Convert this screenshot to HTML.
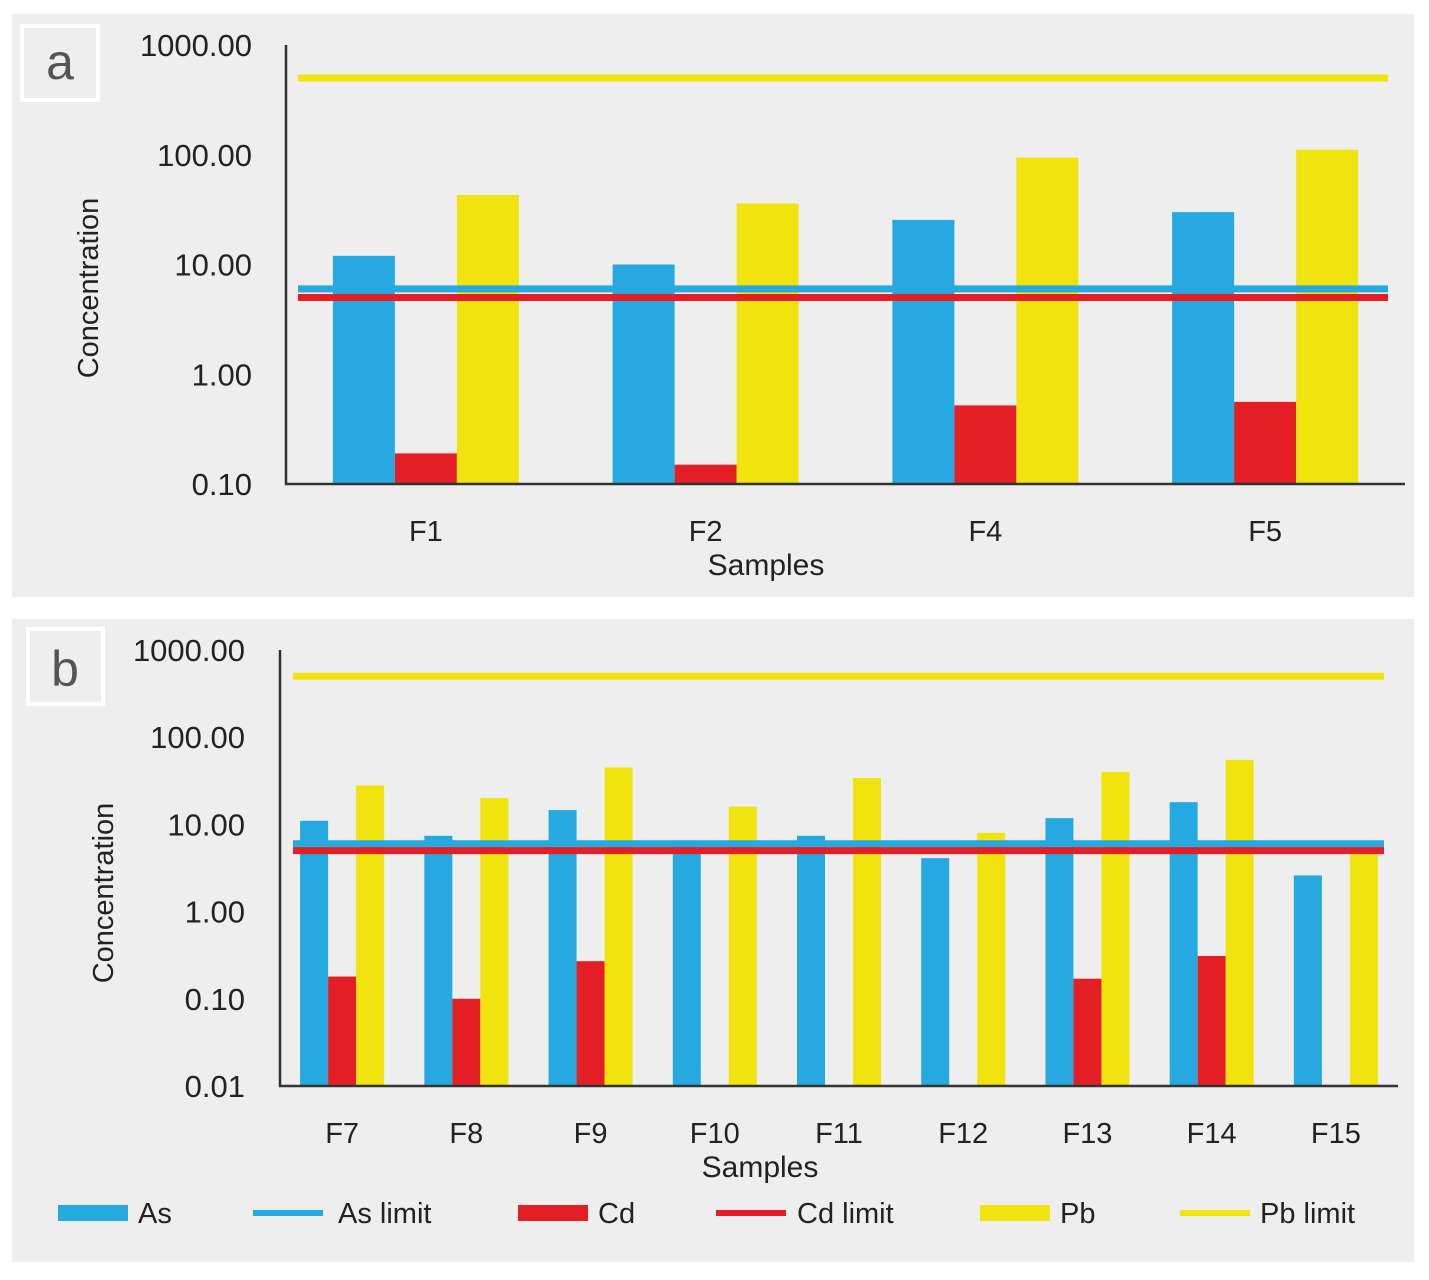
<!DOCTYPE html>
<html><head><meta charset="utf-8">
<style>
html,body{margin:0;padding:0;background:#fff;}
svg{display:block;font-family:"Liberation Sans",sans-serif;}
</style></head>
<body>
<svg id="chart" width="1429" height="1280" viewBox="0 0 1429 1280" xmlns="http://www.w3.org/2000/svg">
<rect x="12" y="14" width="1402" height="583" fill="#eeeeee"/>
<rect x="12" y="619" width="1402" height="643" fill="#eeeeee"/>
<rect x="22" y="26" width="76" height="74" fill="none" stroke="#fff" stroke-width="4"/>
<text x="60" y="79" font-size="50" fill="#555" text-anchor="middle">a</text>
<rect x="28" y="629" width="75" height="75" fill="none" stroke="#fff" stroke-width="4"/>
<text x="65" y="686" font-size="50" fill="#555" text-anchor="middle">b</text>
<g id="pa"></g><g id="pb"></g><g id="legend"></g>
</svg>
<script>
const catsA=["F1","F2","F4","F5"];
const asA=[12,10,25.5,30];
const cdA=[0.19,0.15,0.52,0.56];
const pbA=[43,36,94,111];
const ticksA=["1000.00","100.00","10.00","1.00","0.10"];
const catsB=["F7","F8","F9","F10","F11","F12","F13","F14","F15"];
const asB=[11,7.4,14.6,6,7.4,4.1,11.8,18,2.6];
const cdB=[0.18,0.1,0.27,0,0,0,0.17,0.31,0];
const pbB=[28,20,45,16,34,8,40,55,5];
const ticksB=["1000.00","100.00","10.00","1.00","0.10","0.01"];
const limits=[6,5,500];
const C={as:"#25a9e0",cd:"#e31e24",pb:"#f0e30e"};
const NS="http://www.w3.org/2000/svg";
function mk(p,t,a){const e=document.createElementNS(NS,t);for(const k in a)e.setAttribute(k,a[k]);p.appendChild(e);return e;}
function panel(g,o,cats,as,cd,pb,ticks){
  const minLog=Math.log10(parseFloat(ticks[ticks.length-1]));
  const maxLog=Math.log10(parseFloat(ticks[0]));
  const y=v=>o.y1-(Math.log10(v)-minLog)/(maxLog-minLog)*(o.y1-o.y0);
  const band=(o.x1-o.x0)/cats.length;
  const xc=i=>o.x0+band*(i+0.5);
  ticks.forEach(t=>{
    const e=mk(g,"text",{x:o.tx,y:y(parseFloat(t))+11,"font-size":31,fill:"#222","text-anchor":"end"});
    e.textContent=t;
    
    
  });
  const series=[[as,C.as,"as-bar"],[cd,C.cd,"cd-bar"],[pb,C.pb,"pb-bar"]];
  cats.forEach((c,i)=>{
    series.forEach((s,j)=>{
      const v=s[0][i]; if(!(v>0))return;
      const top=y(v);
      const r=mk(g,"rect",{x:xc(i)-1.5*o.bw+j*o.bw,y:top,width:o.bw,height:o.y1-top,fill:s[1]});
      
      
    });
    const t=mk(g,"text",{x:xc(i),y:o.y1+57,"font-size":29,fill:"#222","text-anchor":"middle"});
    t.textContent=c;
    
    
  });
  const lc=[C.as,C.cd,C.pb], ln=["as-limit-line","cd-limit-line","pb-limit-line"];
  limits.forEach((v,k)=>{
    const l=mk(g,"line",{x1:o.lx0,x2:o.lx1,y1:y(v),y2:y(v),stroke:lc[k],"stroke-width":7});
    
    
  });
  const ax=mk(g,"path",{d:`M${o.x0} ${o.y0}V${o.y1}H${o.x1}`,fill:"none",stroke:"#333","stroke-width":2.5});
  
  
  const xt=mk(g,"text",{x:o.xtx,y:o.y1+91,"font-size":30,fill:"#222","text-anchor":"middle"});
  xt.textContent="Samples";
  
  
  const yt=mk(g,"text",{x:0,y:0,"font-size":29,fill:"#222","text-anchor":"middle",transform:`translate(${o.ytx},${o.yty}) rotate(-90)`});
  yt.textContent="Concentration";
  
  
}
panel(document.getElementById("pa"),{x0:286,x1:1405,y0:45,y1:484,bw:62,tx:252,lx0:298,lx1:1388,xtx:766,ytx:98,yty:288},catsA,asA,cdA,pbA,ticksA);
panel(document.getElementById("pb"),{x0:280,x1:1398,y0:650,y1:1086,bw:28,tx:245,lx0:293,lx1:1384,xtx:760,ytx:113,yty:893},catsB,asB,cdB,pbB,ticksB);
const lg=document.getElementById("legend");
const items=[["As",C.as,"rect",58,138],["As limit",C.as,"line",253,338],["Cd",C.cd,"rect",518,598],["Cd limit",C.cd,"line",716,797],["Pb",C.pb,"rect",980,1060],["Pb limit",C.pb,"line",1180,1260]];
items.forEach(it=>{
  const s=it[2]=="rect"?mk(lg,"rect",{x:it[3],y:1205,width:70,height:16,fill:it[1]}):mk(lg,"line",{x1:it[3],x2:it[3]+70,y1:1213,y2:1213,stroke:it[1],"stroke-width":6});
  
  
  const t=mk(lg,"text",{x:it[4],y:1223,"font-size":29,fill:"#222"});
  t.textContent=it[0];
  
  
});
</script>
</body></html>
